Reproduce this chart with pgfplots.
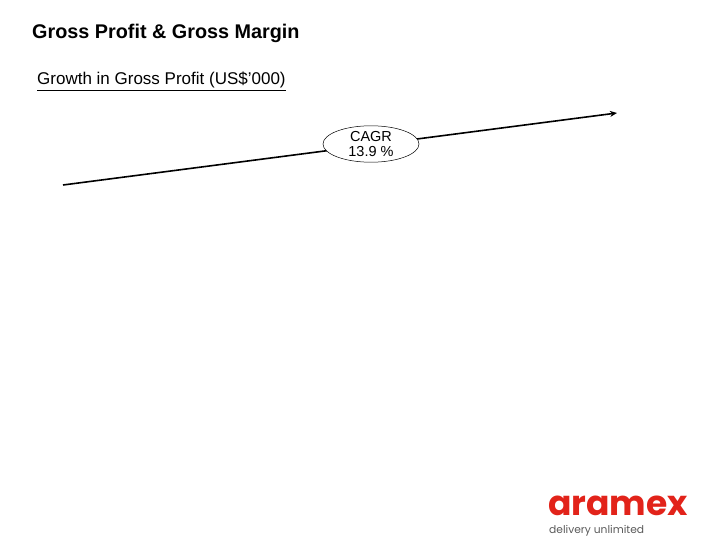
\documentclass[border=0pt]{standalone}
\usepackage{pgfplots}
\pgfplotsset{compat=1.18}
\usepackage{fontspec}
\setmainfont{Liberation Sans}
\newfontfamily\logofont{Poppins}
\usetikzlibrary{arrows.meta,shapes.geometric}
\definecolor{aramexred}{RGB}{226,35,26}
\definecolor{logogrey}{RGB}{90,90,90}

\begin{document}
\begin{tikzpicture}
\begin{axis}[
  scale only axis, width=720pt, height=540pt,
  xmin=0, xmax=720, ymin=0, ymax=540, y dir=reverse,
  hide axis, clip=false,
]
% growth line (CAGR arrow)
\addplot[black, line width=1.6pt, -{Stealth[length=7pt,width=6pt]}] coordinates {(63,185) (617,113)};

\node[ellipse, draw=black, fill=white, line width=0.5pt, minimum width=96pt, minimum height=36pt,
      inner sep=0pt, align=center, font=\fontsize{14.5}{15.5}\selectfont]
  at (axis cs:371,144) {CAGR\\13.9 \%};

\node[anchor=base west, font=\bfseries\fontsize{19.8}{21}\selectfont, inner sep=0pt]
  at (axis cs:32,39) {Gross Profit \& Gross Margin};
\node[anchor=base west, font=\fontsize{17}{19}\selectfont, inner sep=0pt]
  at (axis cs:37,85) {\underline{Growth in Gross Profit (US\$'000)}};

% logo
\node[anchor=base west, text=aramexred, font=\logofont\bfseries\fontsize{34.5}{34}\selectfont,
      inner sep=0pt, text depth=0pt]
  at (axis cs:548,515) {aramex};
\node[anchor=base west, text=logogrey, font=\logofont\fontsize{10.7}{11}\selectfont, inner sep=0pt]
  at (axis cs:549,533) {delivery unlimited};
\end{axis}
\pgfresetboundingbox
\useasboundingbox (current axis.south west) rectangle (current axis.north east);
\end{tikzpicture}
\end{document}
